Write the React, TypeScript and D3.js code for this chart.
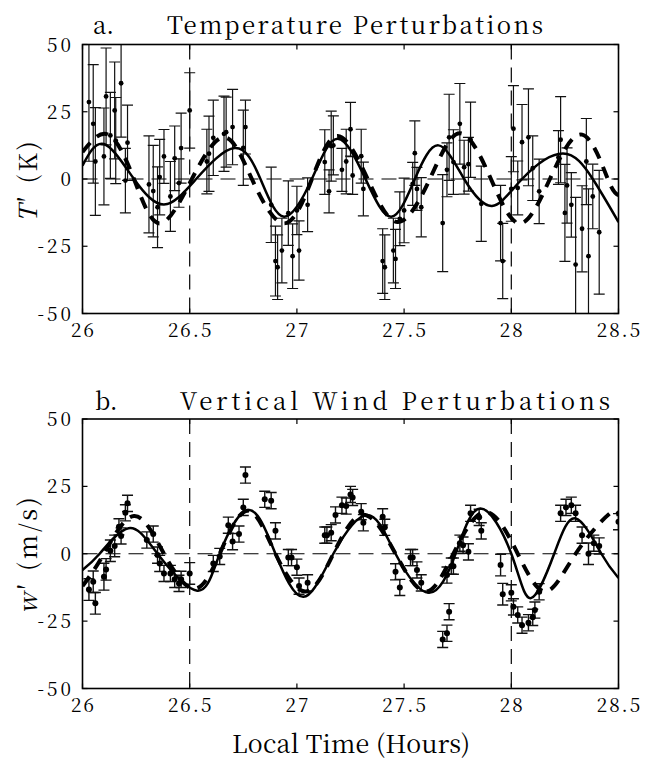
import React from 'react';
import * as d3 from 'd3';

// ---------- shared axis data ----------
const timeTicks = [26, 26.5, 27, 27.5, 28, 28.5];
const timeTickLabels = ['26', '26.5', '27', '27.5', '28', '28.5'];
const valueTicks = [-50, -25, 0, 25, 50];
const valueTickLabels = ['-50', '-25', '0', '25', '50'];
const referenceTimes = [26.5, 28];

// ---------- panel a: temperature ----------
const tempTime = [26.03, 26.05, 26.06, 26.10, 26.11, 26.13, 26.15, 26.155, 26.18, 26.21, 26.20, 26.31, 26.33, 26.35, 26.36, 26.38, 26.41, 26.43, 26.45, 26.46, 26.50,
  26.58, 26.59, 26.61, 26.66, 26.67, 26.70, 26.75, 26.76, 26.88, 26.90, 26.91, 26.93, 26.96, 26.98, 27.00, 27.01, 27.05,
  27.13, 27.15, 27.16, 27.17, 27.21, 27.23, 27.25, 27.26, 27.30, 27.31, 27.40, 27.41, 27.45, 27.46, 27.48, 27.50, 27.54, 27.55, 27.56, 27.58,
  27.68, 27.70, 27.71, 27.73, 27.76, 27.78, 27.80, 27.81, 27.86, 27.95, 27.96, 28.00, 28.01, 28.03, 28.05, 28.08, 28.10, 28.13,
  28.22, 28.23, 28.25, 28.26, 28.28, 28.30, 28.33, 28.35, 28.36, 28.38, 28.41];
const tempValue = [28.6, 20.5, 6.5, 8.4, 30.7, 16.2, 25.5, 14.3, 35.6, 13.5, -0.6, -2, -4.5, -10.5, 0.7, 8.4, -6.5, 7.7, -1.5, 11.5, 25.5,
  6.5, 9.4, 15.3, 16.8, 17.4, 19.3, 11.6, 19.3, -9.6, -30.5, -32.8, -26.6, -12.7, -28.7, -11.7, -26.6, -9.6,
  6.3, -4.6, 12.2, 12.5, 3.4, 6.5, 18.5, 1.3, 8.5, -3.7, -30.5, -32.8, -26.6, -29.7, -14.8, -11.7, -1.8, 9.6, -3.7, -10.5,
  -16.4, 3.4, 15.5, 6.3, 20.5, 4.4, 5.5, 14.6, -9.2, -16.4, -30.5, -3.7, 18.7, -3.3, 13.7, 15.5, 4, -4.6,
  8, 14.6, -12.6, -2.4, -9.6, -31.8, -18.5, 6.5, -28.7, -6.5, -19.8];
const tempError = [22, 22, 20, 18, 18, 16, 18, 16, 20, 14, 12, 18, 17, 15, 14, 10, 13, 12, 9, 13, 14,
  12, 14, 14, 14, 13, 14, 14, 10, 14, 13, 12, 12, 12, 12, 9, 11, 10,
  12, 8, 13, 11, 8, 12, 10, 7, 10, 10, 12, 12, 12, 11, 10, 12, 8, 12, 8, 11,
  18, 10, 16, 12, 15, 10, 10, 14, 14, 14, 14, 12, 16, 10, 14, 18, 12, 12,
  10, 16, 18, 14, 12, 25, 16, 16, 25, 12, 23];

const tempFitTime = [26.0, 26.10, 26.24, 26.38, 26.53, 26.71, 26.83, 26.94, 27.07, 27.19, 27.32, 27.44, 27.55, 27.66, 27.78, 27.91, 28.05, 28.24, 28.38, 28.5];
const tempFitValue = [5, 13, 0, -9.5, 0, 11.5, 0, -14, 0, 15, 0, -14, 0, 12.5, 0, -10, 0, 9.5, 0, -16];

const tempModelTime = [26.0, 26.12, 26.24, 26.36, 26.51, 26.66, 26.79, 26.94, 27.07, 27.19, 27.33, 27.47, 27.62, 27.76, 27.905, 28.04, 28.18, 28.33, 28.45, 28.5];
const tempModelValue = [10, 16.5, 0, -16.5, 0, 15.5, 0, -16.5, 0, 16, 0, -16, 0, 17, 0, -16.5, 0, 16.5, 0, -6];

// ---------- panel b: vertical wind ----------
const windTime = [26.03, 26.05, 26.06, 26.10, 26.11, 26.13, 26.15, 26.17, 26.18, 26.20, 26.21, 26.30, 26.33, 26.35, 26.36, 26.38, 26.41, 26.43, 26.45, 26.46, 26.50,
  26.61, 26.64, 26.68, 26.70, 26.73, 26.75, 26.76, 26.85, 26.88, 26.90, 26.96, 26.975, 27.00, 27.01, 27.05,
  27.13, 27.14, 27.16, 27.18, 27.21, 27.23, 27.25, 27.26, 27.30, 27.31, 27.40, 27.41, 27.46, 27.48, 27.53, 27.54, 27.56, 27.58,
  27.68, 27.70, 27.71, 27.70, 27.72, 27.73, 27.76, 27.775, 27.80, 27.81, 27.85, 27.86,
  27.95, 27.96, 28.00, 28.01, 28.03, 28.05, 28.08, 28.10, 28.11, 28.13,
  28.23, 28.255, 28.28, 28.30, 28.33, 28.36, 28.385, 28.41, 28.50];
const windValue = [-13.3, -10.4, -18.4, -8.5, -5.8, 1.1, 2.9, 10, 6.6, 15.2, 18.7, 5.1, 7.3, -0.5, -3.6, -7.3, -7.3, -9.5, -11, -9.5, -7.3,
  -3.6, -1, 10.6, 4.5, 7.3, 17.2, 29.2, 20.2, 19.7, 8.5, -1.4, -1.4, -5, -12, -10.8,
  6.9, 6.9, 7.8, 14.4, 18, 17.7, 22, 20.9, 15.6, 11.5, 13.7, 9.8, -6.7, -12.5, -1.4, -1.4, -6, -10.8,
  -31.8, -29.5, -21.5, -7.9, -4.6, -4.6, 3.9, 3.2, 0.7, 15, 13.5, 8.5,
  -4.2, -15, -14.5, -19.7, -22.7, -26.5, -25.6, -23.6, -20.9, -14.1,
  15, 17.2, 18, 15, 6.9, 0, 3.9, 2.9, 11.9];
const windError = [4, 4, 4, 5, 4, 4, 4, 3, 3, 3, 3, 3, 3, 3, 3, 3, 3, 3, 3, 3, 4,
  3, 3, 3, 3, 3, 3, 3, 3, 3, 3, 3, 3, 3, 3, 3,
  3, 3, 3, 3, 3, 3, 3, 3, 3, 3, 3, 3, 3, 3, 3, 3, 3, 3,
  3, 3, 3, 3, 3, 3, 3, 3, 3, 3, 3, 3,
  4, 4, 3, 3, 3, 3, 3, 3, 3, 3,
  3, 3, 3, 3, 3, 4, 3, 3, 3];

const windFitTime = [26.0, 26.08, 26.215, 26.35, 26.535, 26.64, 26.775, 26.90, 27.03, 27.17, 27.33, 27.46, 27.615, 27.74, 27.855, 28.0, 28.09, 28.20, 28.30, 28.42, 28.5];
const windFitValue = [-6, 0, 9.5, 0, -13.7, 0, 16.2, 0, -16, 0, 14.4, 0, -14.5, 0, 16.8, 0, -16.5, 0, 13.1, 0, -9];

const windModelTime = [26.0, 26.10, 26.24, 26.38, 26.52, 26.64, 26.77, 26.90, 27.04, 27.17, 27.31, 27.46, 27.60, 27.73, 27.88, 28.03, 28.16, 28.30, 28.46, 28.5];
const windModelValue = [-12, 0, 14, 0, -13, 0, 16, 0, -14, 0, 14.5, 0, -14, 0, 15.5, 0, -14, 0, 15, 14];

// ---------- layout ----------
const WIDTH = 645;
const HEIGHT = 762;
const LEFT = 82.5;
const RIGHT = 618.5;
const TEXT_STYLE = { fontFamily: "'Noto Serif CJK SC', 'Liberation Serif', serif" } as React.CSSProperties;

type PanelProps = {
  id: string;
  top: number;
  bottom: number;
  time: number[];
  value: number[];
  error: number[];
  fitTime: number[];
  fitValue: number[];
  modelTime: number[];
  modelValue: number[];
  markerR: number;
  barWidth: number;
};

function Panel(p: PanelProps) {
  const x = d3.scaleLinear().domain([26, 28.5]).range([LEFT, RIGHT]);
  const y = d3.scaleLinear().domain([-50, 50]).range([p.bottom, p.top]);
  const line = d3.line<[number, number]>().x(d => x(d[0])).y(d => y(d[1])).curve(d3.curveNatural);
  const fit = line(p.fitTime.map((t, i) => [t, p.fitValue[i]] as [number, number])) || '';
  const model = line(p.modelTime.map((t, i) => [t, p.modelValue[i]] as [number, number])) || '';
  const cap = 5.5;
  const tickLen = 5;
  return (
    <g>
      <defs>
        <clipPath id={`clip-${p.id}`}>
          <rect x={LEFT} y={p.top} width={RIGHT - LEFT} height={p.bottom - p.top} />
        </clipPath>
      </defs>
      <g clipPath={`url(#clip-${p.id})`}>
        <line x1={LEFT} x2={RIGHT} y1={y(0)} y2={y(0)} stroke="#000" strokeWidth={1.2} strokeDasharray="15,8" />
        {referenceTimes.map(t => (
          <line key={t} x1={x(t)} x2={x(t)} y1={p.top} y2={p.bottom} stroke="#000" strokeWidth={1.2} strokeDasharray="15,8" />
        ))}
        {p.time.map((t, i) => {
          const cx = x(t);
          const y1 = y(p.value[i] - p.error[i]);
          const y2 = y(p.value[i] + p.error[i]);
          return (
            <g key={i} stroke="#111" strokeWidth={p.barWidth}>
              <line x1={cx} x2={cx} y1={y1} y2={y2} />
              <line x1={cx - cap} x2={cx + cap} y1={y1} y2={y1} />
              <line x1={cx - cap} x2={cx + cap} y1={y2} y2={y2} />
            </g>
          );
        })}
        {p.time.map((t, i) => (
          <circle key={i} cx={x(t)} cy={y(p.value[i])} r={p.markerR} fill="#000" />
        ))}
        <path d={model} fill="none" stroke="#000" strokeWidth={4} strokeDasharray="12,9" />
        <path d={fit} fill="none" stroke="#000" strokeWidth={2.5} />
      </g>
      <rect x={LEFT} y={p.top} width={RIGHT - LEFT} height={p.bottom - p.top} fill="none" stroke="#000" strokeWidth={1.6} />
      {timeTicks.map(t => (
        <g key={t} stroke="#000" strokeWidth={1.2}>
          <line x1={x(t)} x2={x(t)} y1={p.bottom} y2={p.bottom - tickLen} />
          <line x1={x(t)} x2={x(t)} y1={p.top} y2={p.top + tickLen} />
        </g>
      ))}
      {valueTicks.map(v => (
        <g key={v} stroke="#000" strokeWidth={1.2}>
          <line x1={LEFT} x2={LEFT + tickLen} y1={y(v)} y2={y(v)} />
          <line x1={RIGHT} x2={RIGHT - tickLen} y1={y(v)} y2={y(v)} />
        </g>
      ))}
      {timeTicks.map((t, i) => (
        <text key={t} x={x(t) + 1} y={p.bottom + 23} textAnchor="middle" style={TEXT_STYLE} fontSize={19} letterSpacing={2}>
          {timeTickLabels[i]}
        </text>
      ))}
      {valueTicks.map((v, i) => (
        <text key={v} x={74} y={y(v) + 7} textAnchor="end" style={TEXT_STYLE} fontSize={19} letterSpacing={3}>
          {valueTickLabels[i]}
        </text>
      ))}
    </g>
  );
}

export default function App() {
  return (
    <svg width={WIDTH} height={HEIGHT} style={{ position: 'absolute', left: 0, top: 0, background: '#fff' }}>
      <rect x={0} y={0} width={WIDTH} height={HEIGHT} fill="#fff" />
      <Panel id="a" top={44.5} bottom={313.5} time={tempTime} value={tempValue} error={tempError}
        fitTime={tempFitTime} fitValue={tempFitValue} modelTime={tempModelTime} modelValue={tempModelValue}
        markerR={2.4} barWidth={1.2} />
      <Panel id="b" top={419} bottom={688.5} time={windTime} value={windValue} error={windError}
        fitTime={windFitTime} fitValue={windFitValue} modelTime={windModelTime} modelValue={windModelValue}
        markerR={3} barWidth={1.4} />

      <text x={93} y={34} style={TEXT_STYLE} fontSize={24}>a.</text>
      <text x={167} y={34} style={TEXT_STYLE} fontSize={24} textLength={376} lengthAdjust="spacing">Temperature Perturbations</text>
      <text x={95} y={410} style={TEXT_STYLE} fontSize={24}>b.</text>
      <text x={180} y={410} style={TEXT_STYLE} fontSize={24} textLength={430} lengthAdjust="spacing">Vertical Wind Perturbations</text>

      <text transform="translate(37,180) rotate(-90)" textAnchor="middle" style={TEXT_STYLE} fontSize={25} letterSpacing={3}>
        <tspan fontStyle="italic">T</tspan>′ (K)
      </text>
      <text transform="translate(37,554) rotate(-90)" textAnchor="middle" style={TEXT_STYLE} fontSize={25} letterSpacing={3}>
        <tspan fontStyle="italic">w</tspan>′ (m/s)
      </text>

      <text x={232} y={753} style={TEXT_STYLE} fontSize={25} textLength={238} lengthAdjust="spacing">Local Time (Hours)</text>
    </svg>
  );
}
